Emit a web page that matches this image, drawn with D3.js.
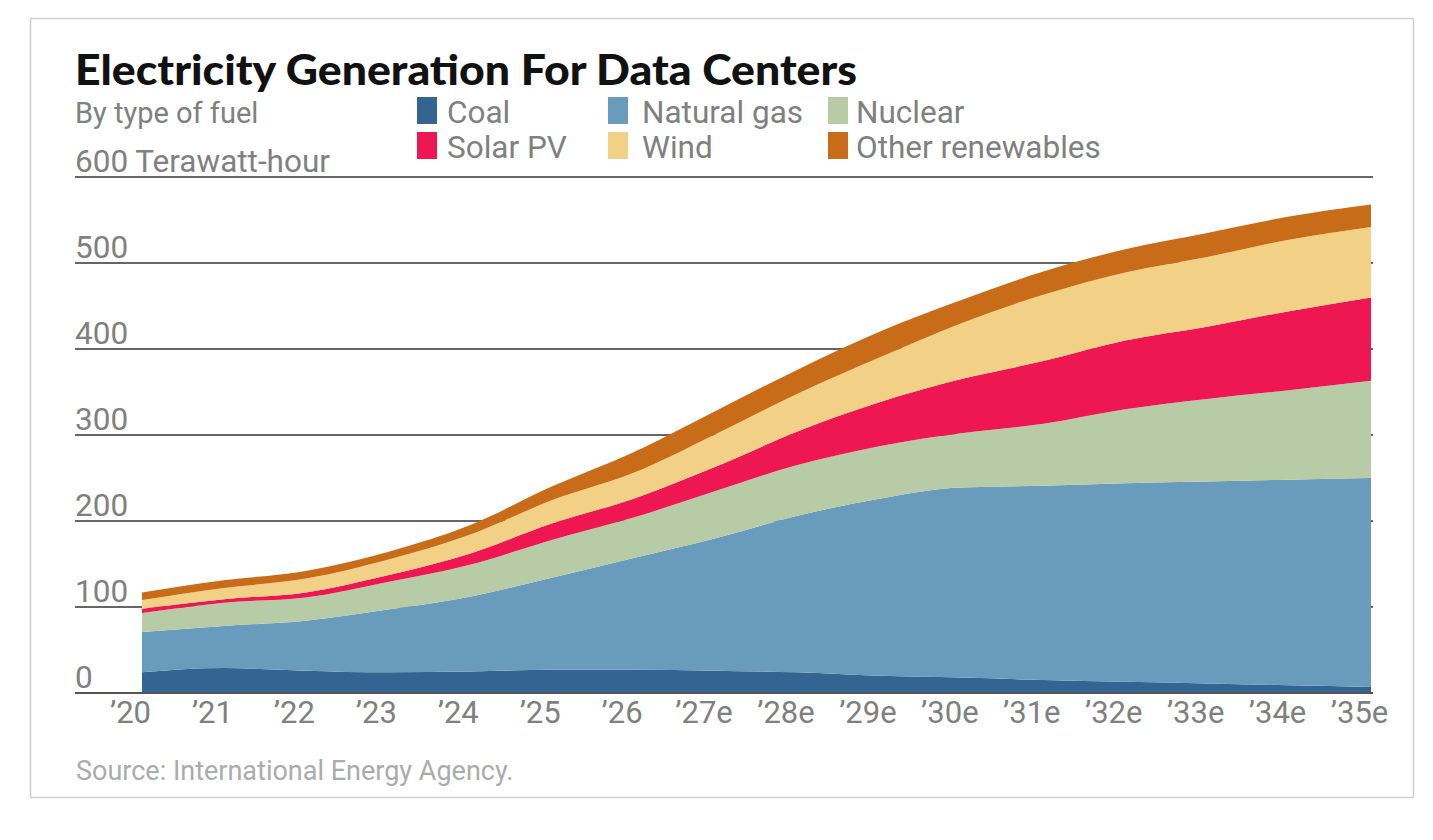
<!DOCTYPE html>
<html>
<head>
<meta charset="utf-8">
<script src="https://cdn.jsdelivr.net/npm/d3@7"></script>
<style>
  body { margin: 0; background: #fff; }
</style>
</head>
<body>
<div id="chart"></div>
<script>
"use strict";

var years = ["\u201920", "\u201921", "\u201922", "\u201923", "\u201924", "\u201925", "\u201926",
  "\u201927e", "\u201928e", "\u201929e", "\u201930e", "\u201931e", "\u201932e", "\u201933e", "\u201934e", "\u201935e"];

// Terawatt-hour
var coal = [24, 29, 26, 24, 25, 27, 27, 26, 24, 20, 18, 15, 13, 11, 9, 7];
var naturalGas = [47, 49, 58, 73, 87, 107, 130, 154, 182, 206, 221, 226, 231, 235, 239, 243];
var nuclear = [22, 27, 27, 32, 37, 44, 47, 55, 59, 61, 63, 72, 86, 96, 104, 113];
var solarPV = [5, 4, 6, 8, 13, 19, 22, 28, 39, 51, 63, 73, 80, 84, 92, 97];
var wind = [10, 13, 16, 18, 22, 27, 30, 38, 44, 52, 65, 77, 79, 81, 83, 82];
var otherRenewables = [9, 9, 9, 9, 11, 16, 24, 27, 28, 30, 27, 27, 27, 28, 27, 26];

var seriesNames = ["Coal", "Natural gas", "Nuclear", "Solar PV", "Wind", "Other renewables"];
var seriesColors = ["#346592", "#699bbd", "#b7cba6", "#ee1752", "#f2d085", "#c96c19"];
var yTicks = [0, 100, 200, 300, 400, 500, 600];

var width = 1433, height = 840;
var sans = "Roboto, 'Noto Sans', sans-serif";

var svg = d3.select("#chart").append("svg")
  .attr("width", width)
  .attr("height", height);

// frame
svg.append("rect")
  .attr("x", 30.5).attr("y", 18.5)
  .attr("width", 1383).attr("height", 779)
  .attr("fill", "#fff")
  .attr("stroke", "#cfcfcf")
  .attr("stroke-width", 1.5);

var x = d3.scalePoint().domain(years).range([142, 1371]);
var y = d3.scaleLinear().domain([0, 600]).range([693, 177]);

// build rows for the stack
var table = years.map(function(yr, i) {
  return {
    year: yr,
    "Coal": coal[i],
    "Natural gas": naturalGas[i],
    "Nuclear": nuclear[i],
    "Solar PV": solarPV[i],
    "Wind": wind[i],
    "Other renewables": otherRenewables[i]
  };
});

var stacked = d3.stack().keys(seriesNames)(table);

// gridlines (under the areas)
svg.append("g")
  .selectAll("line")
  .data(yTicks.filter(function(d) { return d > 0; }))
  .enter().append("line")
  .attr("x1", 75).attr("x2", 1373)
  .attr("y1", function(d) { return y(d); })
  .attr("y2", function(d) { return y(d); })
  .attr("stroke", "#333")
  .attr("stroke-width", 1.5);

var area = d3.area()
  .x(function(d) { return x(d.data.year); })
  .y0(function(d) { return y(d[0]); })
  .y1(function(d) { return y(d[1]); })
  .curve(d3.curveMonotoneX);

svg.append("g")
  .selectAll("path")
  .data(stacked)
  .enter().append("path")
  .attr("fill", function(d, i) { return seriesColors[i]; })
  .attr("d", area);

// baseline
svg.append("line")
  .attr("x1", 75).attr("x2", 1373)
  .attr("y1", y(0)).attr("y2", y(0))
  .attr("stroke", "#555")
  .attr("stroke-width", 2);

// y tick labels
svg.append("g")
  .selectAll("text")
  .data(yTicks)
  .enter().append("text")
  .attr("x", 75)
  .attr("y", function(d) { return y(d) - 5; })
  .style("font-family", sans)
  .style("font-size", "31.5px")
  .attr("fill", "#808080")
  .text(function(d) { return d === 600 ? "600 Terawatt-hour" : d; });

// x axis labels (set a little left of each point, as in the original)
var xAxis = svg.append("g")
  .attr("transform", "translate(-12," + y(0) + ")")
  .call(d3.axisBottom(x).tickSize(0).tickPadding(0));
xAxis.select(".domain").remove();
xAxis.selectAll("text")
  .style("font-family", sans)
  .style("font-size", "31px")
  .attr("fill", "#808080")
  .attr("y", 30)
  .attr("dy", null);

// title
svg.append("text")
  .attr("x", 75).attr("y", 85)
  .style("font-family", "Lato, sans-serif")
  .style("font-weight", 900)
  .style("font-size", "42px")
  .attr("fill", "#111")
  .attr("textLength", 782)
  .attr("lengthAdjust", "spacingAndGlyphs")
  .text("Electricity Generation For Data Centers");

svg.append("text")
  .attr("x", 75).attr("y", 123)
  .style("font-family", sans)
  .style("font-size", "29px")
  .attr("fill", "#808080")
  .text("By type of fuel");

// legend: swatch columns and text columns as in the picture
var swatchX = [417, 608, 828];
var labelX = [447, 642, 856];
var rowY = [97, 132];

var legend = svg.append("g")
  .selectAll("g")
  .data(seriesNames)
  .enter().append("g");

legend.append("rect")
  .attr("x", function(d, i) { return swatchX[i % 3]; })
  .attr("y", function(d, i) { return rowY[Math.floor(i / 3)]; })
  .attr("width", 20).attr("height", 27)
  .attr("fill", function(d, i) { return seriesColors[i]; });

legend.append("text")
  .attr("x", function(d, i) { return labelX[i % 3]; })
  .attr("y", function(d, i) { return rowY[Math.floor(i / 3)] + 26; })
  .style("font-family", sans)
  .style("font-size", "31.5px")
  .attr("fill", "#808080")
  .text(function(d) { return d; });

// source
svg.append("text")
  .attr("x", 76).attr("y", 780)
  .style("font-family", sans)
  .style("font-size", "27px")
  .attr("fill", "#ababab")
  .text("Source: International Energy Agency.");
</script>
</body>
</html>
